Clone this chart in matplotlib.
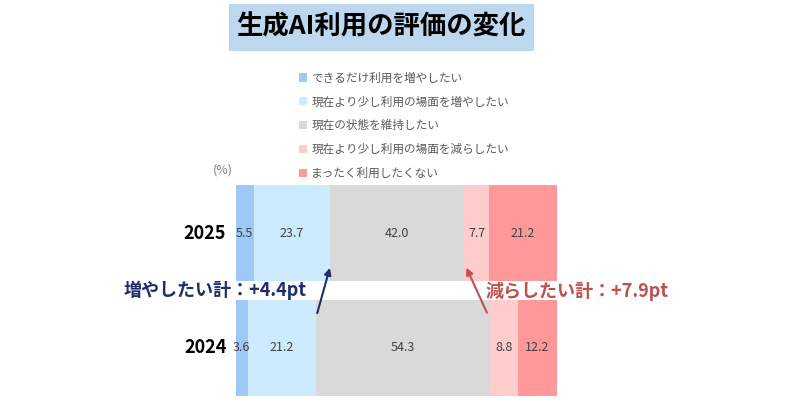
import matplotlib.pyplot as plt
from matplotlib.patches import Rectangle

plt.rcParams['font.family'] = ['Noto Sans CJK JP', 'DejaVu Sans']

# data
years = ['2024', '2025']
categories = ['できるだけ利用を増やしたい', '現在より少し利用の場面を増やしたい', '現在の状態を維持したい',
              '現在より少し利用の場面を減らしたい', 'まったく利用したくない']
values_2024 = [3.6, 21.2, 54.3, 8.8, 12.2]
values_2025 = [5.5, 23.7, 42.0, 7.7, 21.2]
colors = ['#9DC8F7', '#CCEBFF', '#D9D9D9', '#FFCCCC', '#FF9999']

W, H = 800, 400
fig = plt.figure(figsize=(8, 4), dpi=100)

# axes placed in pixel coords: x 236..557, y 185..396
ax = fig.add_axes([236 / W, 1 - 396 / H, 321 / W, 211 / H])
rows = [values_2024, values_2025]
bars = []
for yi, vals in enumerate(rows):
    left = 0
    for ci, v in enumerate(vals):
        b = ax.barh(yi, v, left=left, height=0.835, color=colors[ci], linewidth=0,
                    label=categories[ci] if yi == 0 else None)
        ax.text(left + v / 2, yi, f'{v:.1f}', ha='center', va='center', fontsize=9, color='#404040')
        left += v
        if yi == 0:
            bars.append(b)

ax.set_xlim(0, 100.1)
ax.set_ylim(-0.4174, 1.4174)
ax.axis('off')

for yi, yr in enumerate(years):
    ax.text(-3, yi, yr, ha='right', va='center', fontsize=13, fontweight='bold', color='#000000')

ax.text(-1, 1.55, '(%)', ha='right', va='center', fontsize=9, color='#7F7F7F')

# arrows between the bars
inc24 = values_2024[0] + values_2024[1]
inc25 = values_2025[0] + values_2025[1]
dec24 = sum(values_2024[:3])
dec25 = sum(values_2025[:3])
ax.annotate('', xy=(inc25 + 0.3, 0.72), xytext=(inc24 + 0.3, 0.28),
            arrowprops=dict(arrowstyle='-|>', color='#1F2D6B', lw=1.5, mutation_scale=10))
ax.annotate('', xy=(dec25 + 0.3, 0.72), xytext=(dec24 - 0.5, 0.285),
            arrowprops=dict(arrowstyle='-|>', color='#C0504D', lw=1.5, mutation_scale=10))

fig.text(124 / W, 1 - 290 / H, '増やしたい計：+4.4pt', ha='left', va='center', fontsize=13,
         fontweight='bold', color='#1F2D6B')
fig.text(486 / W, 1 - 291 / H, '減らしたい計：+7.9pt', ha='left', va='center', fontsize=13,
         fontweight='bold', color='#C0504D')

# title box
fig.patches.append(Rectangle((229 / W, 1 - 51 / H), 305 / W, 47 / H, transform=fig.transFigure,
                             facecolor='#BDD7EE', edgecolor='none'))
fig.text(381 / W, 1 - 27 / H, '生成AI利用の評価の変化', ha='center', va='center', fontsize=19,
         fontweight='bold', color='#000000')

# legend
fig.legend(handles=bars, labels=categories, loc='upper left', bbox_to_anchor=(288 / W, 1 - 61 / H),
           frameon=False, fontsize=8.4, handlelength=0.7, handleheight=0.7, handletextpad=0.4,
           labelspacing=0.93, labelcolor='#595959')

fig.savefig('out.png', dpi=100)
